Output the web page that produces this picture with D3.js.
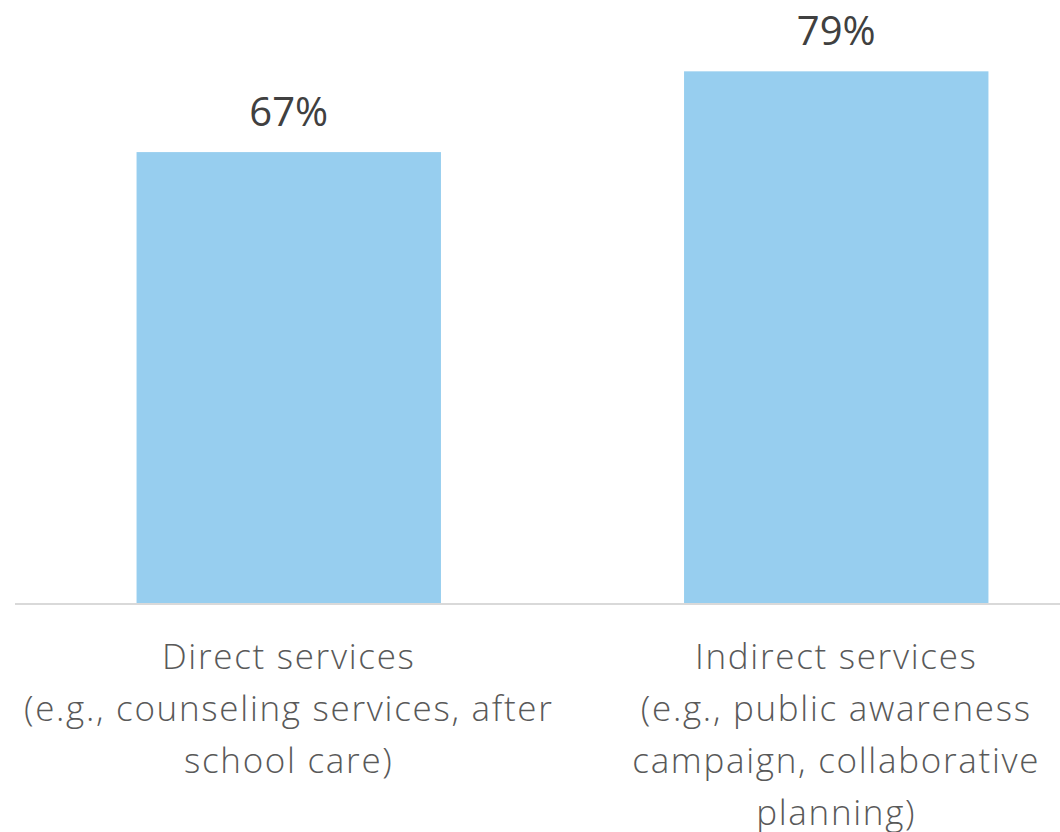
<!DOCTYPE html>
<html>
<head>
<meta charset="utf-8">
<script src="https://cdn.jsdelivr.net/npm/d3@7/dist/d3.min.js"></script>
<style>
  html, body { margin: 0; padding: 0; background: #ffffff; }
  svg { display: block; }
</style>
</head>
<body>
<div id="chart"></div>
<script>
const categories = ["Direct services", "Indirect services"];
const categoryLines = [
  ["Direct services", "(e.g., counseling services, after", "school care)"],
  ["Indirect services", "(e.g., public awareness", "campaign, collaborative", "planning)"]
];
const values = [0.67, 0.79];
const valueLabels = ["67%", "79%"];

const W = 1060, H = 832;
const svg = d3.select("#chart").append("svg")
  .attr("width", W).attr("height", H)
  .style("overflow", "hidden");

const x = d3.scaleBand()
  .domain(categories)
  .range([15, 1110])
  .paddingInner(0.444)
  .paddingOuter(0.222);

const y = d3.scaleLinear()
  .domain([0, 1])
  .range([603, -70]);

// bars
svg.selectAll("rect.bar")
  .data(values)
  .join("rect")
  .attr("class", "bar")
  .attr("x", (d, i) => x(categories[i]))
  .attr("width", x.bandwidth())
  .attr("y", d => y(d))
  .attr("height", d => y(0) - y(d))
  .attr("fill", "#97CEEF");

// baseline axis
svg.append("line")
  .attr("x1", 15).attr("x2", W)
  .attr("y1", y(0) + 1).attr("y2", y(0) + 1)
  .attr("stroke", "#d9d9d9")
  .attr("stroke-width", 2);

// value labels
svg.selectAll("text.val")
  .data(values)
  .join("text")
  .attr("class", "val")
  .attr("x", (d, i) => x(categories[i]) + x.bandwidth() / 2)
  .attr("y", d => y(d) - 26)
  .attr("text-anchor", "middle")
  .attr("font-family", "'Open Sans', sans-serif")
  .attr("font-size", 40)
  .attr("fill", "#404040")
  .text((d, i) => valueLabels[i]);

// category labels
const catG = svg.selectAll("text.cat")
  .data(categories)
  .join("text")
  .attr("class", "cat")
  .attr("text-anchor", "middle")
  .attr("font-family", "'Open Sans', sans-serif")
  .attr("font-size", 35)
  .attr("font-weight", 300)
  .attr("letter-spacing", 1.7)
  .attr("fill", "#595959");

catG.each(function(c, i) {
  const cx = x(c) + x.bandwidth() / 2;
  d3.select(this).selectAll("tspan")
    .data(categoryLines[i])
    .join("tspan")
    .attr("x", cx)
    .attr("y", (d, j) => 669 + j * 52)
    .text(d => d);
});
</script>
</body>
</html>
